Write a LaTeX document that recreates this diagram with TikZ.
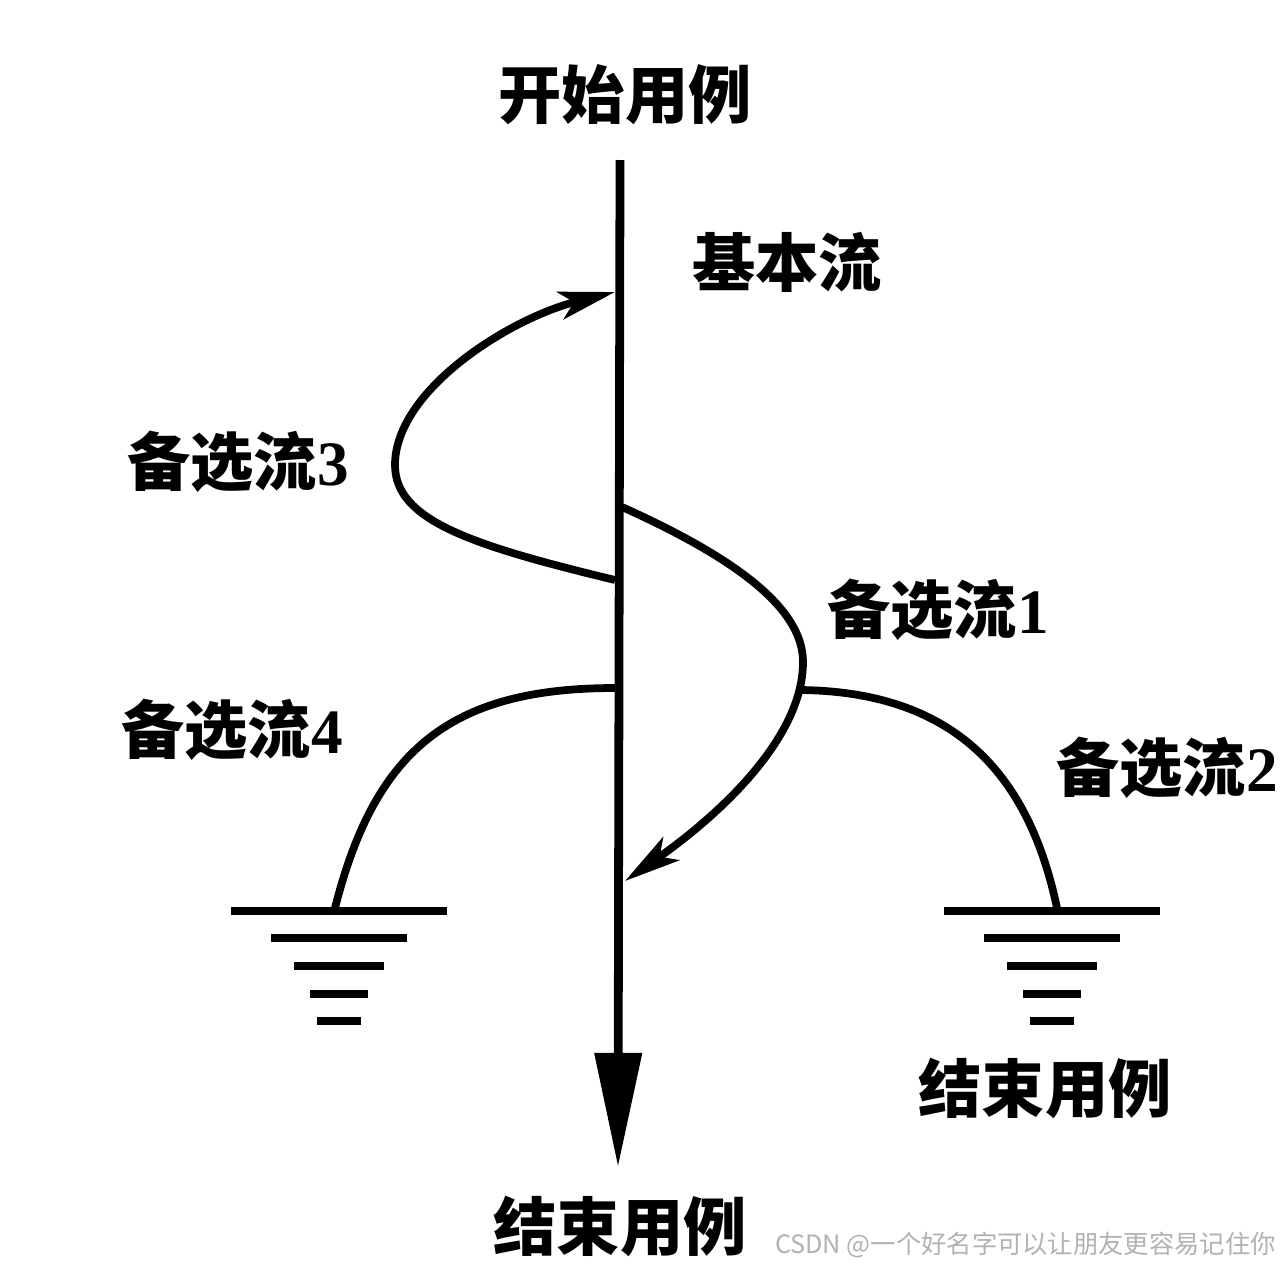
\documentclass[tikz,border=0pt]{standalone}
\usepackage{fontspec}
\setmainfont{Liberation Serif}
\newfontfamily\cjk{Noto Sans CJK SC}
\usetikzlibrary{arrows.meta}
\begin{document}
\begin{tikzpicture}[x=0.02cm,y=-0.02cm,
  flow/.style={line width=4.4pt},
  mainln/.style={line width=5pt},
  gnd/.style={line width=5pt},
  lbl/.style={font=\fontsize{36}{40}\selectfont\cjk\bfseries, inner sep=0pt},
  tipsmall/.style={-{Stealth[length=32pt,width=16pt,inset=8pt]}},
  groundsym/.pic={
    \draw[gnd] (-108,0) -- (108,0);
    \draw[gnd] (-68,27) -- (68,27);
    \draw[gnd] (-45,55) -- (45,55);
    \draw[gnd] (-29,83) -- (29,83);
    \draw[gnd] (-22,110) -- (22,110);
  }]
\useasboundingbox[fill=white] (0,0) rectangle (1280,1265);

% labels
\node[lbl] (start) at (625,95) {开始用例};
\node[lbl] (basic) at (787,262) {基本流};
\node[lbl] (alt3) at (238,462) {备选流\textbf{\rmfamily 3}};
\node[lbl] (alt1) at (938,610) {备选流\textbf{\rmfamily 1}};
\node[lbl] (alt4) at (232,730) {备选流\textbf{\rmfamily 4}};
\node[lbl, anchor=west] (alt2) at (1056,768) {备选流\textbf{\rmfamily 2}};
\node[lbl] (endr) at (1045,1088) {结束用例};
\node[lbl] (endb) at (620,1226) {结束用例};
\node[font=\fontsize{14.4}{17}\selectfont\cjk, text=black!30, inner sep=0pt, anchor=east] (wm) at (1276,1245) {CSDN @一个好名字可以让朋友更容易记住你};

% coordinates
\coordinate (mtop) at (620,160);
\coordinate (mbot) at (618,1167);
\coordinate (a3s) at (615,580);
\coordinate (a3e) at (615,292);
\coordinate (a1s) at (622,507);
\coordinate (a1m) at (803,662);
\coordinate (a1e) at (625,881);
\coordinate (a4s) at (615,688);
\coordinate (g4) at (339,911);
\coordinate (a2s) at (801,690);
\coordinate (g2) at (1052,911);

% main flow
\draw[mainln, -{Triangle[length=65pt,width=26pt]}] (mtop) -- (mbot);

% alternative 3
\draw[flow, tipsmall] (a3s) .. controls (470,545) and (395,520) .. (395,465)
  .. controls (395,390) and (510,318) .. (a3e);

% alternative 1
\draw[flow, tipsmall] (a1s) .. controls (740,560) and (803,610) .. (a1m)
  .. controls (803,740) and (715,818) .. (a1e);

% alternative 4
\draw[flow] (a4s) .. controls (450,688) and (375,750) .. (335,908);

% alternative 2
\draw[flow] (a2s) .. controls (960,692) and (1030,780) .. (1057,908);

% grounds
\pic at (g4) {groundsym};
\pic at (g2) {groundsym};
\end{tikzpicture}
\end{document}
